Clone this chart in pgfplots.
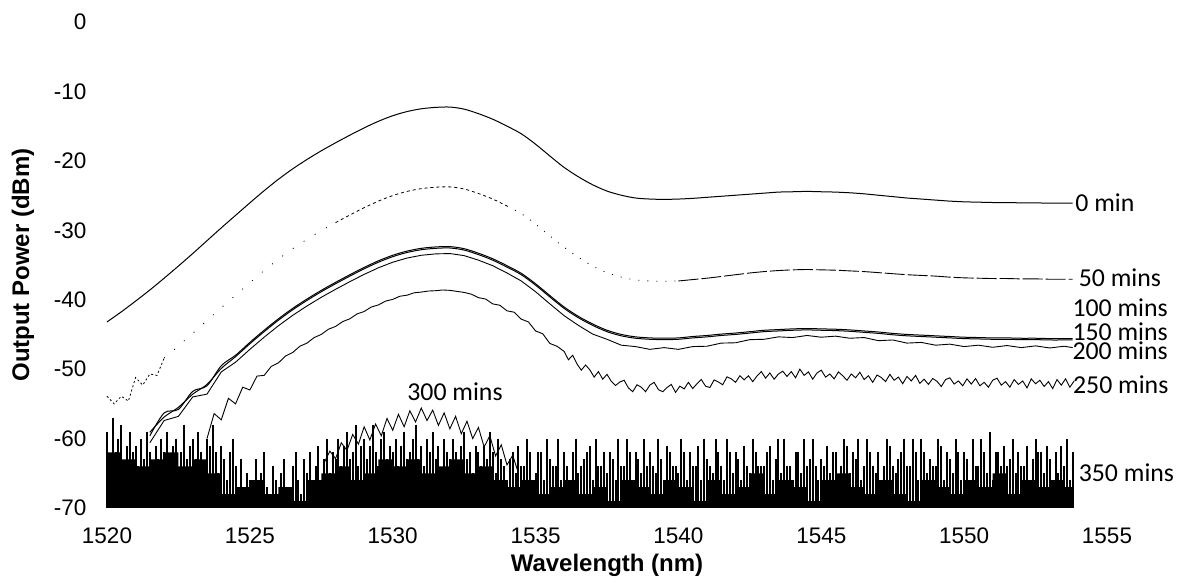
\documentclass[border=0pt]{standalone}
\usepackage{pgfplots}
\usepackage{pgfplotstable}
\pgfplotsset{compat=1.18}
\usepgfplotslibrary{fillbetween}
\usepackage{fontspec}
\setmainfont{Liberation Sans}
\newfontfamily\calib{Carlito}

\pgfplotstableread{
x y
1520.0 -43.2
1520.5 -41.75
1521.0 -40.2
1521.5 -38.6
1522.0 -36.9
1522.5 -35.15
1523.0 -33.35
1523.5 -31.5
1524.0 -29.65
1524.5 -27.85
1525.0 -26.05
1525.5 -24.3
1526.0 -22.65
1526.5 -21.15
1527.0 -19.8
1527.5 -18.55
1528.0 -17.4
1528.5 -16.3
1529.0 -15.25
1529.5 -14.3
1530.0 -13.5
1530.5 -12.9
1531.0 -12.5
1531.5 -12.3
1532.0 -12.25
1532.5 -12.55
1533.0 -13.2
1533.5 -14.0
1534.0 -15.0
1534.5 -16.1
1535.0 -17.6
1535.5 -19.3
1536.0 -20.95
1536.5 -22.3
1537.0 -23.45
1537.5 -24.35
1538.0 -24.95
1538.5 -25.35
1539.0 -25.5
1539.5 -25.55
1540.0 -25.5
1540.5 -25.4
1541.0 -25.25
1541.5 -25.1
1542.0 -24.95
1542.5 -24.8
1543.0 -24.65
1543.5 -24.5
1544.0 -24.45
1544.5 -24.4
1545.0 -24.45
1545.5 -24.5
1546.0 -24.6
1546.5 -24.75
1547.0 -24.95
1547.5 -25.15
1548.0 -25.35
1548.5 -25.5
1549.0 -25.65
1549.5 -25.8
1550.0 -25.9
1550.5 -25.95
1551.0 -26.0
1551.5 -26.0
1552.0 -26.05
1552.5 -26.05
1553.0 -26.1
1553.5 -26.1
1553.8 -26.1
}\tzero

\pgfplotstableread{
x y
1520.0 -53.9
1520.25 -55.0
1520.5 -53.9
1520.75 -54.6
1521.0 -51.2
1521.25 -52.3
1521.5 -50.7
1521.75 -50.9
1522.0 -48.4
1522.5 -46.65
1523.0 -44.85
1523.5 -43.0
1524.0 -41.15
1524.5 -39.35
1525.0 -37.55
1525.5 -35.8
1526.0 -34.15
1526.5 -32.65
1527.0 -31.3
1527.5 -30.05
1528.0 -28.9
1528.5 -27.8
1529.0 -26.75
1529.5 -25.8
1530.0 -25.0
1530.5 -24.4
1531.0 -24.0
1531.5 -23.8
1532.0 -23.75
1532.5 -24.05
1533.0 -24.7
1533.5 -25.5
1534.0 -26.5
1534.5 -27.6
1535.0 -29.1
1535.5 -30.8
1536.0 -32.45
1536.5 -33.9
1537.0 -35.15
1537.5 -36.1
1538.0 -36.75
1538.5 -37.15
1539.0 -37.3
1539.5 -37.35
1540.0 -37.3
1540.5 -37.1
1541.0 -36.9
1541.5 -36.65
1542.0 -36.4
1542.5 -36.15
1543.0 -35.95
1543.5 -35.8
1544.0 -35.7
1544.5 -35.65
1545.0 -35.7
1545.5 -35.75
1546.0 -35.85
1546.5 -35.95
1547.0 -36.1
1547.5 -36.25
1548.0 -36.4
1548.5 -36.5
1549.0 -36.6
1549.5 -36.75
1550.0 -36.85
1550.5 -36.9
1551.0 -36.95
1551.5 -36.95
1552.0 -37.0
1552.5 -37.0
1553.0 -37.05
1553.5 -37.05
1553.8 -37.05
}\tfifty

\pgfplotstableread{
x y
1521.5 -59.6
1522.0 -56.3
1522.5 -55.8
1523.0 -53.2
1523.5 -52.4
1524.0 -49.5
1524.5 -48.0
1525.0 -46.15
1525.5 -44.4
1526.0 -42.75
1526.5 -41.25
1527.0 -39.9
1527.5 -38.65
1528.0 -37.5
1528.5 -36.4
1529.0 -35.35
1529.5 -34.4
1530.0 -33.6
1530.5 -33.0
1531.0 -32.6
1531.5 -32.4
1532.0 -32.35
1532.5 -32.65
1533.0 -33.3
1533.5 -34.1
1534.0 -35.1
1534.5 -36.2
1535.0 -37.7
1535.5 -39.4
1536.0 -41.05
1536.5 -42.4
1537.0 -43.5
1537.5 -44.4
1538.0 -45.0
1538.5 -45.35
1539.0 -45.5
1539.5 -45.55
1540.0 -45.5
1540.5 -45.3
1541.0 -45.15
1541.5 -44.95
1542.0 -44.8
1542.5 -44.6
1543.0 -44.4
1543.5 -44.3
1544.0 -44.2
1544.5 -44.15
1545.0 -44.2
1545.5 -44.25
1546.0 -44.35
1546.5 -44.5
1547.0 -44.65
1547.5 -44.85
1548.0 -45.0
1548.5 -45.1
1549.0 -45.2
1549.5 -45.3
1550.0 -45.4
1550.5 -45.45
1551.0 -45.5
1551.5 -45.5
1552.0 -45.55
1552.5 -45.55
1553.0 -45.6
1553.5 -45.6
1553.8 -45.6
}\thundred

\pgfplotstableread{
x y
1521.5 -59.1
1522.0 -56.9
1522.5 -55.5
1523.0 -53.6
1523.5 -52.2
1524.0 -49.9
1524.5 -48.2
1525.0 -46.35
1525.5 -44.6
1526.0 -42.95
1526.5 -41.45
1527.0 -40.1
1527.5 -38.85
1528.0 -37.7
1528.5 -36.6
1529.0 -35.55
1529.5 -34.6
1530.0 -33.8
1530.5 -33.2
1531.0 -32.8
1531.5 -32.6
1532.0 -32.55
1532.5 -32.85
1533.0 -33.5
1533.5 -34.3
1534.0 -35.3
1534.5 -36.4
1535.0 -37.9
1535.5 -39.6
1536.0 -41.25
1536.5 -42.6
1537.0 -43.7
1537.5 -44.6
1538.0 -45.2
1538.5 -45.55
1539.0 -45.7
1539.5 -45.75
1540.0 -45.7
1540.5 -45.5
1541.0 -45.35
1541.5 -45.15
1542.0 -45.0
1542.5 -44.8
1543.0 -44.6
1543.5 -44.5
1544.0 -44.4
1544.5 -44.35
1545.0 -44.4
1545.5 -44.45
1546.0 -44.55
1546.5 -44.7
1547.0 -44.85
1547.5 -45.05
1548.0 -45.2
1548.5 -45.3
1549.0 -45.4
1549.5 -45.5
1550.0 -45.6
1550.5 -45.65
1551.0 -45.7
1551.5 -45.7
1552.0 -45.75
1552.5 -45.75
1553.0 -45.8
1553.5 -45.8
1553.8 -45.8
}\tonefifty

\pgfplotstableread{
x y
1521.5 -60.6
1522.0 -57.4
1522.5 -56.8
1523.0 -54.0
1523.5 -53.6
1524.0 -50.4
1524.5 -49.0
1525.0 -47.15
1525.5 -45.4
1526.0 -43.75
1526.5 -42.25
1527.0 -40.9
1527.5 -39.65
1528.0 -38.5
1528.5 -37.4
1529.0 -36.35
1529.5 -35.4
1530.0 -34.6
1530.5 -34.0
1531.0 -33.6
1531.5 -33.4
1532.0 -33.35
1532.5 -33.65
1533.0 -34.3
1533.5 -35.1
1534.0 -36.15
1534.5 -37.3
1535.0 -38.85
1535.5 -40.6
1536.0 -42.3
1536.5 -43.7
1537.0 -44.95
1537.5 -45.7
1538.0 -46.55
1538.5 -46.75
1539.0 -47.15
1539.5 -46.9
1540.0 -47.15
1540.5 -46.75
1541.0 -46.7
1541.5 -46.25
1542.0 -46.2
1542.5 -45.75
1543.0 -45.7
1543.5 -45.35
1544.0 -45.45
1544.5 -45.15
1545.0 -45.4
1545.5 -45.25
1546.0 -45.55
1546.5 -45.45
1547.0 -45.9
1547.5 -45.8
1548.0 -46.25
1548.5 -46.15
1549.0 -46.55
1549.5 -46.4
1550.0 -46.75
1550.5 -46.55
1551.0 -46.85
1551.5 -46.6
1552.0 -46.9
1552.5 -46.65
1553.0 -46.95
1553.5 -46.7
1553.8 -46.9
}\ttwohundred

\pgfplotstableread{
x y
1523.50 -60.0
1523.75 -56.4
1524.00 -57.3
1524.25 -54.2
1524.50 -55.0
1524.75 -52.6
1525.00 -53.0
1525.25 -51.0
1525.50 -50.9
1525.75 -49.6
1526.00 -49.1
1526.25 -48.1
1526.50 -47.6
1526.75 -46.7
1527.00 -46.25
1527.25 -45.45
1527.50 -45.0
1527.75 -44.25
1528.00 -43.85
1528.25 -43.15
1528.50 -42.75
1528.75 -42.05
1529.00 -41.7
1529.25 -41.05
1529.50 -40.75
1529.75 -40.2
1530.00 -39.95
1530.25 -39.5
1530.50 -39.35
1530.75 -39.0
1531.00 -38.9
1531.25 -38.75
1531.50 -38.7
1531.75 -38.6
1532.00 -38.65
1532.25 -38.8
1532.50 -38.95
1532.75 -39.2
1533.00 -39.7
1533.25 -39.9
1533.50 -40.6
1533.75 -40.8
1534.00 -41.6
1534.25 -41.8
1534.50 -42.8
1534.75 -43.2
1535.00 -44.5
1535.25 -44.9
1535.50 -46.3
1535.75 -46.7
1536.00 -47.45
1536.15 -48.65
1536.30 -48.0
1536.45 -49.25
1536.60 -50.15
1536.75 -49.4
1536.90 -50.1
1537.05 -51.15
1537.20 -50.35
1537.35 -51.45
1537.50 -50.75
1537.65 -51.75
1537.80 -52.35
1537.95 -51.85
1538.10 -51.6
1538.25 -52.7
1538.40 -53.25
1538.55 -52.25
1538.70 -52.6
1538.85 -53.25
1539.00 -52.3
1539.15 -51.9
1539.30 -52.95
1539.45 -53.25
1539.60 -52.65
1539.75 -52.2
1539.90 -53.35
1540.05 -52.45
1540.20 -52.85
1540.35 -51.9
1540.50 -52.8
1540.65 -52.1
1540.80 -51.5
1540.95 -52.45
1541.10 -52.65
1541.25 -51.55
1541.40 -51.85
1541.55 -52.25
1541.70 -51.1
1541.85 -51.4
1542.00 -51.9
1542.15 -50.95
1542.30 -51.55
1542.45 -50.95
1542.60 -51.8
1542.75 -51.0
1542.90 -50.35
1543.05 -51.3
1543.20 -50.55
1543.35 -51.45
1543.50 -50.7
1543.65 -50.3
1543.80 -51.05
1543.95 -50.35
1544.10 -51.25
1544.25 -50.0
1544.40 -50.9
1544.55 -50.4
1544.70 -51.45
1544.85 -50.55
1545.00 -50.15
1545.15 -51.15
1545.30 -50.7
1545.45 -51.4
1545.60 -50.4
1545.75 -50.95
1545.90 -51.6
1546.05 -50.7
1546.20 -51.25
1546.35 -50.45
1546.50 -51.5
1546.65 -50.95
1546.80 -51.9
1546.95 -50.85
1547.10 -51.2
1547.25 -51.8
1547.40 -50.75
1547.55 -51.6
1547.70 -51.15
1547.85 -52.1
1548.00 -51.05
1548.15 -51.7
1548.30 -50.9
1548.45 -52.05
1548.60 -51.45
1548.75 -52.2
1548.90 -51.35
1549.05 -51.75
1549.20 -52.5
1549.35 -51.5
1549.50 -51.25
1549.65 -52.15
1549.80 -51.7
1549.95 -52.4
1550.10 -51.4
1550.25 -52.15
1550.40 -51.35
1550.55 -52.4
1550.70 -51.9
1550.85 -52.6
1551.00 -51.6
1551.15 -51.3
1551.30 -52.3
1551.45 -51.8
1551.60 -52.6
1551.75 -51.5
1551.90 -52.2
1552.05 -51.7
1552.20 -52.7
1552.35 -51.4
1552.50 -52.1
1552.65 -51.6
1552.80 -52.5
1552.95 -51.8
1553.10 -52.8
1553.25 -51.5
1553.40 -52.3
1553.55 -51.4
1553.70 -52.6
1553.85 -51.7
}\ttwofifty

\pgfplotstableread{
x y
1527.6 -63.5
1527.8 -61.8
1528.0 -62.9
1528.2 -60.6
1528.4 -61.7
1528.6 -59.4
1528.8 -60.8
1529.0 -58.3
1529.2 -60.2
1529.4 -57.9
1529.6 -59.6
1529.8 -57.1
1530.0 -58.8
1530.2 -56.5
1530.4 -58.3
1530.6 -56.0
1530.8 -57.6
1531.0 -55.6
1531.2 -57.4
1531.4 -55.9
1531.6 -58.1
1531.8 -56.3
1532.0 -58.6
1532.2 -56.8
1532.4 -59.3
1532.6 -57.5
1532.8 -60.0
1533.0 -58.4
1533.2 -61.2
1533.4 -59.6
1533.6 -62.5
1533.8 -60.9
1534.0 -63.8
1534.2 -62.4
1534.4 -65.0
}\tthreehundred

% 350 mins: top of the dense noise mass
\pgfplotstableread{
x y
1520.0 -62
1520.5 -63
1521.0 -64
1521.5 -63
1522.0 -62
1522.5 -64
1523.0 -63
1523.5 -65
1524.0 -68
1524.5 -67
1525.0 -66
1525.5 -68
1526.0 -67
1526.5 -69
1527.0 -66
1527.5 -65
1528.0 -64
1528.5 -66
1529.0 -65
1529.5 -63
1530.0 -64
1530.5 -63
1531.0 -65
1531.5 -64
1532.0 -63
1532.5 -65
1533.0 -64
1533.5 -66
1534.0 -67
1534.5 -66
1535.0 -68
1535.5 -67
1536.0 -66
1536.5 -68
1537.0 -67
1537.5 -69
1538.0 -66
1538.5 -67
1539.0 -68
1539.5 -66
1540.0 -67
1540.5 -69
1541.0 -66
1541.5 -68
1542.0 -67
1542.5 -65
1543.0 -68
1543.5 -66
1544.0 -67
1544.5 -69
1545.0 -66
1545.5 -65
1546.0 -67
1546.5 -68
1547.0 -66
1547.5 -68
1548.0 -69
1548.5 -66
1549.0 -67
1549.5 -68
1550.0 -66
1550.5 -67
1551.0 -65
1551.5 -68
1552.0 -66
1552.5 -67
1553.0 -66
1553.5 -67
1553.8 -67
}\tthreefiftymass

% 350 mins: individual spikes
\pgfplotstableread{
x y
1520.0 -59
1520.1 -63
1520.2 -57
1520.3 -62
1520.4 -60
1520.5 -58
1520.6 -64
1520.7 -61
1520.8 -59
1520.9 -62
1521.0 -61
1521.1 -64
1521.2 -60
1521.3 -63
1521.4 -59
1521.5 -62
1521.6 -66
1521.7 -61
1521.8 -63
1521.9 -60
1522.0 -62
1522.1 -59
1522.2 -64
1522.3 -61
1522.4 -60
1522.5 -65
1522.6 -62
1522.7 -58
1522.8 -63
1522.9 -61
1523.0 -60
1523.1 -63
1523.2 -59
1523.3 -62
1523.4 -64
1523.5 -60
1523.6 -61
1523.7 -58
1523.8 -62
1523.9 -65
1524.0 -61
1524.1 -63
1524.2 -66
1524.3 -62
1524.4 -60
1524.5 -64
1524.6 -67
1524.7 -63
1524.8 -68
1524.9 -65
1525.0 -66
1525.1 -69
1525.2 -63
1525.3 -68
1525.4 -65
1525.5 -62
1525.6 -67
1525.7 -69
1525.8 -64
1525.9 -66
1526.0 -68
1526.1 -65
1526.2 -63
1526.3 -67
1526.4 -69
1526.5 -64
1526.6 -62
1526.7 -66
1526.8 -68
1526.9 -63
1527.0 -65
1527.1 -62
1527.2 -67
1527.3 -64
1527.4 -61
1527.5 -66
1527.6 -63
1527.7 -60
1527.8 -65
1527.9 -62
1528.0 -63
1528.1 -60
1528.2 -64
1528.3 -61
1528.4 -59
1528.5 -63
1528.6 -62
1528.7 -58
1528.8 -64
1528.9 -61
1529.0 -60
1529.1 -63
1529.2 -61
1529.3 -58
1529.4 -62
1529.5 -64
1529.6 -60
1529.7 -59
1529.8 -63
1529.9 -61
1530.0 -62
1530.1 -60
1530.2 -64
1530.3 -61
1530.4 -59
1530.5 -63
1530.6 -62
1530.7 -60
1530.8 -58
1530.9 -63
1531.0 -61
1531.1 -64
1531.2 -60
1531.3 -62
1531.4 -59
1531.5 -63
1531.6 -61
1531.7 -65
1531.8 -60
1531.9 -62
1532.0 -63
1532.1 -60
1532.2 -62
1532.3 -64
1532.4 -61
1532.5 -59
1532.6 -63
1532.7 -62
1532.8 -65
1532.9 -61
1533.0 -62
1533.1 -64
1533.2 -61
1533.3 -63
1533.4 -59
1533.5 -62
1533.6 -65
1533.7 -60
1533.8 -63
1533.9 -64
1534.0 -66
1534.1 -63
1534.2 -62
1534.3 -65
1534.4 -61
1534.5 -64
1534.6 -64
1534.7 -60
1534.8 -62
1534.9 -66
1535.0 -65
1535.1 -62
1535.2 -62
1535.3 -66
1535.4 -60
1535.5 -63
1535.6 -64
1535.7 -64
1535.8 -60
1535.9 -66
1536.0 -62
1536.1 -64
1536.2 -66
1536.3 -62
1536.4 -60
1536.5 -65
1536.6 -64
1536.7 -63
1536.8 -62
1536.9 -61
1537.0 -66
1537.1 -60
1537.2 -64
1537.3 -64
1537.4 -62
1537.5 -65
1537.6 -62
1537.7 -63
1537.8 -66
1537.9 -60
1538.0 -64
1538.1 -64
1538.2 -60
1538.3 -62
1538.4 -66
1538.5 -62
1538.6 -63
1538.7 -65
1538.8 -60
1538.9 -64
1539.0 -62
1539.1 -64
1539.2 -65
1539.3 -60
1539.4 -63
1539.5 -66
1539.6 -61
1539.7 -62
1539.8 -64
1539.9 -64
1540.0 -65
1540.1 -60
1540.2 -62
1540.3 -66
1540.4 -62
1540.5 -64
1540.6 -64
1540.7 -61
1540.8 -66
1540.9 -60
1541.0 -63
1541.1 -64
1541.2 -65
1541.3 -60
1541.4 -62
1541.5 -64
1541.6 -66
1541.7 -60
1541.8 -62
1541.9 -65
1542.0 -62
1542.1 -63
1542.2 -66
1542.3 -61
1542.4 -64
1542.5 -65
1542.6 -60
1542.7 -62
1542.8 -64
1542.9 -64
1543.0 -64
1543.1 -62
1543.2 -61
1543.3 -66
1543.4 -63
1543.5 -60
1543.6 -65
1543.7 -60
1543.8 -64
1543.9 -64
1544.0 -66
1544.1 -62
1544.2 -62
1544.3 -65
1544.4 -60
1544.5 -64
1544.6 -63
1544.7 -60
1544.8 -64
1544.9 -66
1545.0 -63
1545.1 -64
1545.2 -61
1545.3 -65
1545.4 -62
1545.5 -62
1545.6 -66
1545.7 -64
1545.8 -60
1545.9 -61
1546.0 -65
1546.1 -62
1546.2 -63
1546.3 -60
1546.4 -66
1546.5 -64
1546.6 -60
1546.7 -62
1546.8 -64
1546.9 -65
1547.0 -62
1547.1 -66
1547.2 -64
1547.3 -60
1547.4 -61
1547.5 -64
1547.6 -65
1547.7 -63
1547.8 -62
1547.9 -60
1548.0 -64
1548.1 -64
1548.2 -60
1548.3 -62
1548.4 -66
1548.5 -60
1548.6 -62
1548.7 -65
1548.8 -63
1548.9 -64
1549.0 -64
1549.1 -60
1549.2 -61
1549.3 -66
1549.4 -62
1549.5 -63
1549.6 -65
1549.7 -60
1549.8 -62
1549.9 -66
1550.0 -62
1550.1 -63
1550.2 -66
1550.3 -60
1550.4 -64
1550.5 -64
1550.6 -60
1550.7 -62
1550.8 -65
1550.9 -59
1551.0 -66
1551.1 -62
1551.2 -62
1551.3 -64
1551.4 -61
1551.5 -64
1551.6 -63
1551.7 -60
1551.8 -65
1551.9 -62
1552.0 -64
1552.1 -64
1552.2 -61
1552.3 -66
1552.4 -63
1552.5 -60
1552.6 -62
1552.7 -62
1552.8 -65
1552.9 -61
1553.0 -63
1553.1 -66
1553.2 -62
1553.3 -65
1553.4 -61
1553.5 -64
1553.6 -60
1553.7 -66
1553.8 -62
}\tthreefifty

\begin{document}
\begin{tikzpicture}
\begin{axis}[
  scale only axis, width=500pt, height=243pt,
  xmin=1520, xmax=1555, ymin=-70, ymax=0,
  xtick={1520,1525,...,1555}, ytick={-70,-60,...,0},
  axis line style={draw=none}, tick style={draw=none},
  clip=false,
  /pgf/number format/assume math mode=true,
  /pgf/number format/1000 sep={},
  scaled x ticks=false,
  tick label style={font=\fontsize{11.25}{13}\selectfont},
  xticklabel shift=6.25pt, yticklabel shift=6.75pt,
  xlabel={Wavelength (nm)}, ylabel={Output Power (dBm)},
  label style={font=\bfseries\fontsize{12}{14}\selectfont},
  xlabel style={at={(axis description cs:0.5,-0.1173)}, anchor=center},
  ylabel style={at={(axis description cs:-0.084,0.5)}, anchor=center},
  every axis plot/.append style={line width=0.5pt, black},
]
% 350 mins noise floor: dense mass between its top and the -70 floor
\addplot[const plot, draw=none, name path=masstop] table {\tthreefiftymass};
\addplot[draw=none, name path=floor] coordinates {(1520,-70) (1553.8,-70)};
\addplot[black] fill between[of=masstop and floor];
% 350 mins noise floor: vertical spikes from the -70 floor
\addplot[draw=none, mark=none, error bars/.cd, y dir=minus, y explicit, error mark=none,
  error bar style={line width=1.0pt, draw=black, solid}]
  table[x=x, y=y, y error minus expr=\thisrow{y}+70] {\tthreefifty};
% 300 mins
\addplot[line width=0.45pt] table {\tthreehundred};
% 250 mins
\addplot[line width=0.45pt] table {\ttwofifty};
% 200 mins
\addplot[line width=0.45pt] table {\ttwohundred};
% 150 mins
\addplot[smooth] table {\tonefifty};
% 100 mins
\addplot[smooth] table {\thundred};
% 50 mins (segments, mostly dotted)
\addplot[line width=0.4pt, dash pattern=on 1pt off 1.2pt, restrict x to domain=1520:1522] table {\tfifty};
\addplot[smooth, line width=0.4pt, dash pattern=on 0.5pt off 6pt, restrict x to domain=1522:1528] table {\tfifty};
\addplot[smooth, line width=0.4pt, dash pattern=on 1.5pt off 1.5pt, restrict x to domain=1528:1534] table {\tfifty};
\addplot[smooth, line width=0.4pt, dash pattern=on 0.5pt off 4pt, restrict x to domain=1534:1540] table {\tfifty};
\addplot[smooth, line width=0.45pt, dash pattern=on 10pt off 1.5pt, restrict x to domain=1540:1553.8] table {\tfifty};
% 0 min
\addplot[smooth] table {\tzero};

\begin{scope}[every node/.style={inner sep=0pt, font=\calib\fontsize{12.9}{15}\selectfont}]
\node[anchor=west] at (axis cs:1553.88,-26.07) {0 min};
\node[anchor=west] at (axis cs:1554.0,-36.87) {50 mins};
\node[anchor=west] at (axis cs:1553.78,-41.19) {100 mins};
\node[anchor=west] at (axis cs:1553.78,-44.65) {150 mins};
\node[anchor=west] at (axis cs:1553.78,-47.3) {200 mins};
\node[anchor=west] at (axis cs:1553.8,-52.28) {250 mins};
\node[anchor=west] at (axis cs:1554.0,-64.96) {350 mins};
\node[anchor=center] at (axis cs:1532.18,-53.29) {300 mins};
\end{scope}
\end{axis}
\pgfresetboundingbox
\path[use as bounding box] (-53.5pt,-38pt) rectangle (536pt,254pt);
\end{tikzpicture}
\end{document}
